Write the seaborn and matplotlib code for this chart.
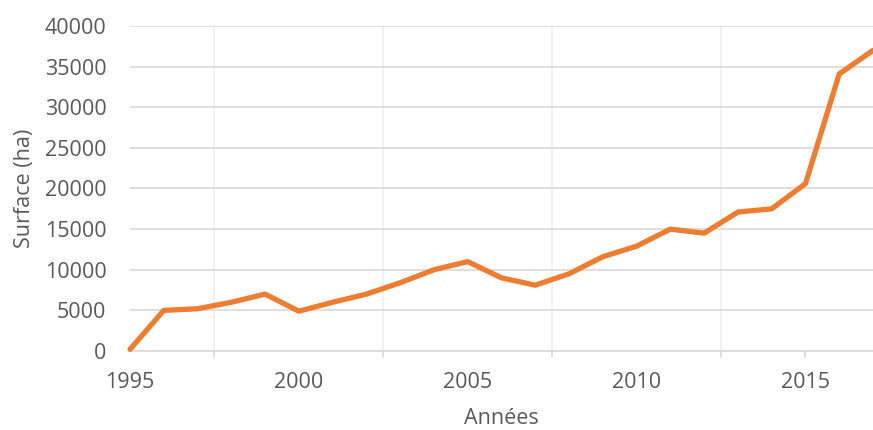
import pandas as pd
import matplotlib.pyplot as plt
import seaborn as sns

# Données
annees = list(range(1995, 2018))
surface = [200, 5000, 5200, 6000, 7000, 4900, 6000, 7000, 8400, 10000, 11000,
           9000, 8100, 9500, 11600, 12900, 15000, 14500, 17100, 17500, 20600,
           34100, 37000]

df = pd.DataFrame({'Années': annees, 'Surface (ha)': surface})

sns.set_style('white')
plt.rcParams['font.family'] = ['Open Sans', 'DejaVu Sans']

fig = plt.figure(figsize=(8.73, 4.30), dpi=100)
ax = fig.add_axes([130 / 873, 79 / 430, 743 / 873, 325 / 430])

sns.lineplot(data=df, x='Années', y='Surface (ha)', color='#ED7D31',
             linewidth=3.8, ax=ax, clip_on=False, zorder=3)

ax.set_xlim(1995, 2017)
ax.set_ylim(0, 40000)
ax.set_yticks(range(0, 40001, 5000))
ax.set_xticks([1995, 2000, 2005, 2010, 2015])
ax.set_xticks([1997.5, 2000, 2002.5, 2005, 2007.5, 2010, 2012.5, 2015], minor=True)

# grille
ax.grid(axis='y', which='major', color='#D9D9D9', linewidth=1.2)
ax.grid(axis='x', which='minor', color='#EFEFEF', linewidth=1.2)
ax.set_axisbelow(True)

for s in ['top', 'right', 'left']:
    ax.spines[s].set_visible(False)
ax.spines['bottom'].set_color('#D9D9D9')
ax.spines['bottom'].set_linewidth(1.2)

ax.tick_params(axis='y', length=0, pad=17, labelsize=15.5, labelcolor='#595959')
ax.tick_params(axis='x', which='major', length=0, pad=15, labelsize=15.5,
               labelcolor='#595959')
ax.tick_params(axis='x', which='minor', length=0)

# petites graduations sous l'axe
for xt in [1997.5, 2002.5, 2007.5, 2012.5, 2015]:
    ax.plot([xt, xt], [0, -700], color='#D9D9D9', linewidth=1.2, clip_on=False)

ax.set_xlabel('Années', fontsize=15.5, color='#595959', labelpad=11)
ax.set_ylabel('Surface (ha)', fontsize=15.5, color='#595959', labelpad=7)

plt.savefig('out.png', dpi=100)
